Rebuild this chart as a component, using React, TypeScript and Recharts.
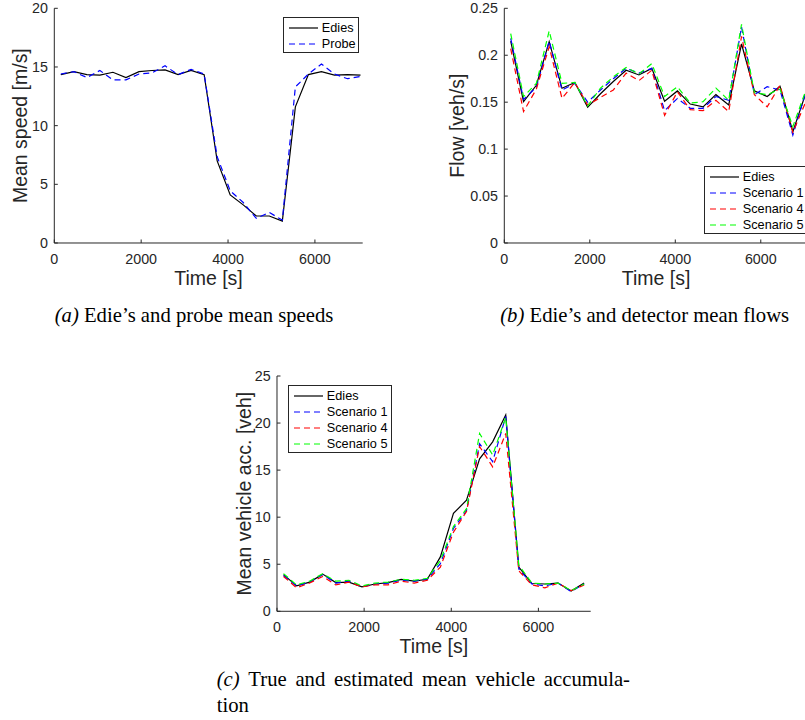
import React from 'react';
import { Legend, Line, LineChart, XAxis, YAxis } from 'recharts';

// sample times (s), shared by all three panels
const timeS = [150, 450, 750, 1050, 1350, 1650, 1950, 2250, 2550, 2850, 3150, 3450, 3750, 4050, 4350, 4650, 4950, 5250, 5550, 5850, 6150, 6450, 6750, 7050];

// (a) mean speeds [m/s]
const speedEdies = [14.35, 14.6, 14.35, 14.3, 14.55, 14.1, 14.6, 14.7, 14.75, 14.35, 14.7, 14.35, 7.0, 4.1, 3.25, 2.3, 2.3, 1.87, 11.6, 14.35, 14.6, 14.3, 14.35, 14.3];
const speedProbe = [14.4, 14.6, 14.1, 14.7, 13.9, 13.9, 14.4, 14.5, 15.1, 14.35, 14.8, 14.4, 7.35, 4.45, 3.45, 2.1, 2.6, 1.95, 13.3, 14.4, 15.25, 14.4, 14.0, 14.2];

// (b) mean flows [veh/s]
const flowEdies = [0.215, 0.1505, 0.168, 0.2145, 0.1648, 0.171, 0.1445, 0.159, 0.172, 0.184, 0.179, 0.186, 0.151, 0.162, 0.148, 0.145, 0.158, 0.147, 0.212, 0.162, 0.156, 0.167, 0.1186, 0.159];
const flowS1 = [0.218, 0.153, 0.166, 0.215, 0.163, 0.17, 0.15, 0.163, 0.175, 0.186, 0.181, 0.186, 0.141, 0.154, 0.1435, 0.1435, 0.156, 0.152, 0.23, 0.158, 0.1665, 0.163, 0.115, 0.16];
const flowS4 = [0.207, 0.14, 0.164, 0.209, 0.154, 0.171, 0.147, 0.155, 0.163, 0.181, 0.173, 0.184, 0.136, 0.161, 0.142, 0.141, 0.152, 0.14, 0.22, 0.158, 0.145, 0.168, 0.118, 0.15];
const flowS5 = [0.223, 0.156, 0.17, 0.226, 0.17, 0.171, 0.146, 0.165, 0.177, 0.187, 0.18, 0.191, 0.156, 0.1665, 0.149, 0.1505, 0.165, 0.152, 0.233, 0.16, 0.158, 0.164, 0.124, 0.162];

// (c) mean vehicle accumulation [veh]
const accEdies = [3.9, 2.7, 3.1, 3.95, 3.05, 3.1, 2.6, 2.9, 3.05, 3.4, 3.2, 3.4, 5.78, 10.4, 11.8, 16.2, 18.0, 20.85, 4.7, 2.95, 2.9, 3.0, 2.16, 3.0];
const accS1 = [3.8, 2.7, 3.1, 3.9, 3.0, 3.2, 2.6, 2.9, 3.0, 3.3, 3.2, 3.4, 5.07, 8.8, 10.7, 17.8, 15.9, 20.7, 4.5, 2.9, 2.7, 3.0, 2.1, 2.9];
const accS4 = [3.7, 2.5, 3.0, 3.7, 2.8, 3.1, 2.6, 2.8, 2.8, 3.2, 3.0, 3.3, 4.7, 8.4, 10.6, 17.5, 15.35, 18.9, 4.3, 2.8, 2.5, 3.0, 2.2, 2.8];
const accS5 = [4.0, 2.8, 3.2, 4.0, 3.2, 3.3, 2.7, 3.0, 3.1, 3.4, 3.3, 3.5, 5.4, 9.0, 10.9, 18.9, 16.6, 20.6, 4.9, 3.0, 2.9, 3.0, 2.2, 2.9];

const xTicks = [0, 2000, 4000, 6000];
const speedTicks = [0, 5, 10, 15, 20];
const flowTicks = [0, 0.05, 0.1, 0.15, 0.2, 0.25];
const accTicks = [0, 5, 10, 15, 20, 25];

const INK = '#262626';
const SANS = '"Liberation Sans", Arial, Helvetica, sans-serif';
const SERIF = '"Liberation Serif", "Times New Roman", Times, serif';

type Series = { key: string; name: string; color: string; dashed: boolean };

const speedSeries: Series[] = [
  { key: 'edies', name: 'Edies', color: '#000000', dashed: false },
  { key: 'probe', name: 'Probe', color: '#0000ff', dashed: true }
];

const scenarioSeries: Series[] = [
  { key: 'edies', name: 'Edies', color: '#000000', dashed: false },
  { key: 's1', name: 'Scenario 1', color: '#0000ff', dashed: true },
  { key: 's4', name: 'Scenario 4', color: '#ff0000', dashed: true },
  { key: 's5', name: 'Scenario 5', color: '#00ff00', dashed: true }
];

const speedData = timeS.map((t, i) => ({ t, edies: speedEdies[i], probe: speedProbe[i] }));
const flowData = timeS.map((t, i) => ({ t, edies: flowEdies[i], s1: flowS1[i], s4: flowS4[i], s5: flowS5[i] }));
const accData = timeS.map((t, i) => ({ t, edies: accEdies[i], s1: accS1[i], s4: accS4[i], s5: accS5[i] }));

function BoxLegend({ series, width }: { series: Series[]; width: number }) {
  return (
    <div
      style={{
        position: 'relative',
        width,
        height: 4 + series.length * 16,
        boxSizing: 'border-box',
        border: `1px solid ${INK}`,
        background: '#fff',
        fontFamily: SANS
      }}
    >
      {series.map((s, i) => (
        <div
          key={s.key}
          style={{ position: 'absolute', left: 0, top: 2 + i * 16, height: 16, display: 'flex', alignItems: 'center' }}
        >
          <svg width={36} height={16} style={{ display: 'block' }}>
            <line
              x1={5}
              x2={34}
              y1={8}
              y2={8}
              stroke={s.color}
              strokeWidth={1.2}
              strokeDasharray={s.dashed ? '6 4' : undefined}
            />
          </svg>
          <span style={{ fontSize: 12.7, color: '#000', marginLeft: 1.5, whiteSpace: 'nowrap', lineHeight: '16px' }}>
            {s.name}
          </span>
        </div>
      ))}
    </div>
  );
}

type PanelProps = {
  left: number;
  top: number;
  width: number;
  height: number;
  marginTop: number;
  yWidth: number;
  xMax: number;
  yMax: number;
  yTicks: number[];
  yLabel: string;
  yLabelOffset: number;
  data: Array<Record<string, number>>;
  series: Series[];
  legendLeft: number;
  legendTop: number;
  legendWidth: number;
};

function Panel(p: PanelProps) {
  const tickStyle = { fontSize: 14.3, fill: INK, fontFamily: SANS };
  const axisStyle = { stroke: INK, strokeWidth: 1 };
  return (
    <div style={{ position: 'absolute', left: p.left, top: p.top, fontFamily: SANS }}>
      <LineChart
        width={p.width}
        height={p.height}
        data={p.data}
        margin={{ top: p.marginTop, right: 10, bottom: 0, left: 0 }}
      >
        <XAxis
          dataKey="t"
          type="number"
          domain={[0, p.xMax]}
          ticks={xTicks}
          interval={0}
          allowDataOverflow
          height={50}
          tick={tickStyle}
          tickSize={-3.5}
          tickMargin={14.2}
          axisLine={axisStyle}
          tickLine={axisStyle}
          label={{ value: 'Time [s]', position: 'insideBottom', offset: 8.2, fill: INK, fontSize: 19.5 }}
        />
        <YAxis
          type="number"
          domain={[0, p.yMax]}
          ticks={p.yTicks}
          interval={0}
          allowDataOverflow
          width={p.yWidth}
          tick={tickStyle}
          tickSize={-3.5}
          tickMargin={9.8}
          axisLine={axisStyle}
          tickLine={axisStyle}
          label={{
            value: p.yLabel,
            angle: -90,
            position: 'insideLeft',
            offset: p.yLabelOffset,
            fill: INK,
            fontSize: 19.5,
            style: { textAnchor: 'middle' }
          }}
        />
        <Legend
          layout="vertical"
          align="center"
          verticalAlign="middle"
          wrapperStyle={{ left: p.legendLeft, top: p.legendTop, width: p.legendWidth }}
          content={() => <BoxLegend series={p.series} width={p.legendWidth} />}
        />
        {p.series.map((s) => (
          <Line
            key={s.key}
            type="linear"
            dataKey={s.key}
            name={s.name}
            stroke={s.color}
            strokeWidth={1.2}
            strokeDasharray={s.dashed ? '6 4' : undefined}
            dot={false}
            activeDot={false}
            isAnimationActive={false}
          />
        ))}
      </LineChart>
    </div>
  );
}

function Caption({ left, top, width, tag, text, align = 'center' }: {
  left: number; top: number; width: number; tag?: string; text: string; align?: 'center' | 'justify' | 'left';
}) {
  return (
    <div
      style={{
        position: 'absolute',
        left,
        top,
        width,
        fontFamily: SERIF,
        fontSize: 20.7,
        lineHeight: '20.7px',
        color: '#000',
        textAlign: align,
        textAlignLast: align === 'justify' ? 'justify' : undefined,
        whiteSpace: align === 'justify' ? 'normal' : 'nowrap'
      }}
    >
      {tag && <i>{tag} </i>}
      {text}
    </div>
  );
}

export default function App() {
  return (
    <div style={{ position: 'absolute', left: 0, top: 0, width: 805, height: 720, overflow: 'hidden', background: '#fff' }}>
      <Panel
        left={0}
        top={0}
        width={372.7}
        height={293}
        marginTop={8.3}
        yWidth={54.3}
        xMax={7100}
        yMax={20}
        yTicks={speedTicks}
        yLabel="Mean speed [m/s]"
        yLabelOffset={19.7}
        data={speedData}
        series={speedSeries}
        legendLeft={283.3}
        legendTop={17.3}
        legendWidth={76}
      />
      <Panel
        left={400}
        top={0}
        width={417.8}
        height={293}
        marginTop={8.3}
        yWidth={104.3}
        xMax={7100}
        yMax={0.25}
        yTicks={flowTicks}
        yLabel="Flow [veh/s]"
        yLabelOffset={57.5}
        data={flowData}
        series={scenarioSeries}
        legendLeft={304.3}
        legendTop={165.7}
        legendWidth={104}
      />
      <Panel
        left={200}
        top={330}
        width={400.7}
        height={331.3}
        marginTop={46}
        yWidth={77}
        xMax={7200}
        yMax={25}
        yTicks={accTicks}
        yLabel="Mean vehicle acc. [veh]"
        yLabelOffset={44.5}
        data={accData}
        series={scenarioSeries}
        legendLeft={88.3}
        legendTop={55}
        legendWidth={103.4}
      />
      <Caption left={0} top={304.7} width={388} tag="(a)" text="Edie’s and probe mean speeds" />
      <Caption left={444.7} top={304.7} width={400} tag="(b)" text="Edie’s and detector mean flows" />
      <Caption left={216.7} top={669.4} width={413.3} tag="(c)" text="True and estimated mean vehicle accumula-" align="justify" />
      <Caption left={216.7} top={695.4} width={200} text="tion" align="left" />
    </div>
  );
}
